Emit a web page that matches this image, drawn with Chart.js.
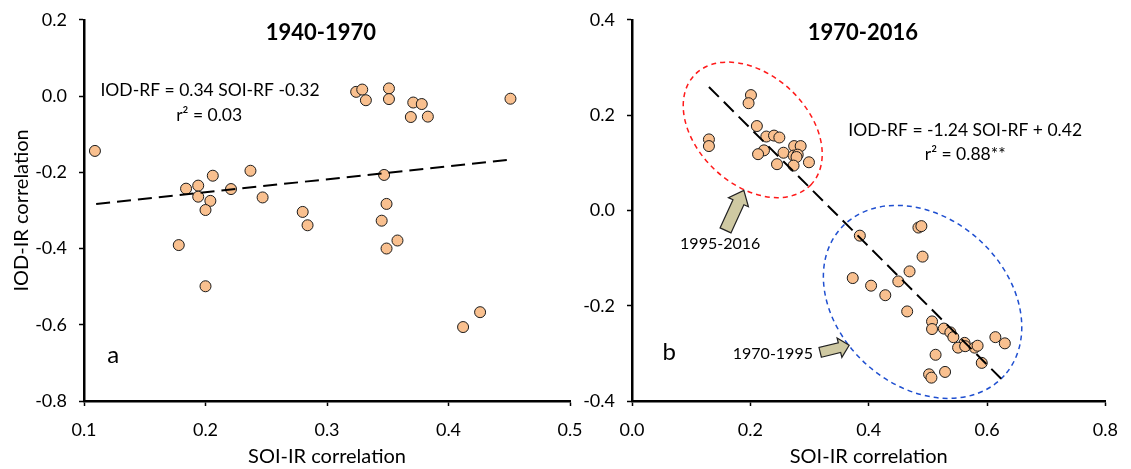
<!DOCTYPE html>
<html>
<head>
<meta charset="utf-8">
<script src="https://cdn.jsdelivr.net/npm/chart.js@4.4.0/dist/chart.umd.min.js"></script>
<style>
  html, body { margin: 0; padding: 0; background: #fff; }
  #wrap { position: relative; width: 1131px; height: 469px; overflow: hidden; background: #fff; }
  canvas { position: absolute; top: -3px; }
  #leftChart { left: 0; }
  #rightChart { left: 575px; }
</style>
</head>
<body>
<div id="wrap">
  <canvas id="leftChart" width="600" height="472"></canvas>
  <canvas id="rightChart" width="556" height="472"></canvas>
</div>
<script>
// panel a: 1940-1970
const SOI_1940 = [0.109, 0.184, 0.194, 0.194, 0.206, 0.204, 0.200, 0.221, 0.237, 0.247, 0.280, 0.284, 0.178, 0.200,
  0.324, 0.329, 0.332, 0.351, 0.351, 0.371, 0.378, 0.369, 0.383, 0.451, 0.347, 0.349, 0.345, 0.358, 0.349, 0.426, 0.412];
const IOD_1940 = [-0.144, -0.243, -0.235, -0.264, -0.209, -0.275, -0.299, -0.244, -0.196, -0.266, -0.304, -0.339, -0.391, -0.499,
  0.011, 0.017, -0.011, 0.020, -0.008, -0.017, -0.021, -0.055, -0.054, -0.007, -0.207, -0.283, -0.327, -0.379, -0.400, -0.567, -0.606];
const TREND_1940_X = [0.11, 0.448];
const TREND_1940_Y = [-0.283, -0.168];

// panel b: 1970-2016
const SOI_1970 = [0.201, 0.197, 0.211, 0.130, 0.130, 0.227, 0.240, 0.249, 0.223, 0.213, 0.256, 0.245, 0.274, 0.285, 0.273, 0.280, 0.278, 0.273, 0.299,
  0.385, 0.484, 0.489, 0.491, 0.469, 0.373, 0.404, 0.450, 0.428, 0.465, 0.507, 0.507, 0.527, 0.538, 0.543, 0.562, 0.551, 0.563,
  0.579, 0.584, 0.614, 0.630, 0.513, 0.591, 0.529, 0.502, 0.506];
const IOD_1970 = [0.242, 0.225, 0.177, 0.149, 0.135, 0.155, 0.157, 0.153, 0.126, 0.118, 0.121, 0.097, 0.135, 0.135, 0.115, 0.117, 0.112, 0.094, 0.101,
  -0.053, -0.036, -0.033, -0.097, -0.128, -0.142, -0.158, -0.149, -0.178, -0.212, -0.233, -0.249, -0.248, -0.256, -0.266, -0.278, -0.288, -0.285,
  -0.288, -0.284, -0.266, -0.279, -0.303, -0.320, -0.339, -0.344, -0.351];
const TREND_1970_X = [0.13, 0.63];
const TREND_1970_Y = [0.259, -0.361];

const X_TITLE = 'SOI-IR correlation';
const Y_TITLE = 'IOD-IR correlation';

const FONT = 'Lato, Carlito, Calibri, sans-serif';
const POINT_FILL = '#f9c08f';
let chartInstances = {};

function toPoints(xs, ys) {
    return xs.map((x, i) => ({ x: x, y: ys[i] }));
}

// ellipses, arrows and text labels placed in data units
const notesPlugin = {
    id: 'notes',
    beforeDatasetsDraw(chart, args, opts) {
        const ctx = chart.ctx;
        const sx = chart.scales.x, sy = chart.scales.y;
        ctx.save();
        (opts.ellipses || []).forEach(e => {
            ctx.beginPath();
            ctx.ellipse(sx.getPixelForValue(e.x), sy.getPixelForValue(e.y), e.rx, e.ry, e.rot * Math.PI / 180, 0, Math.PI * 2);
            ctx.setLineDash(e.dash);
            ctx.lineWidth = e.width;
            ctx.strokeStyle = e.color;
            ctx.stroke();
        });
        ctx.restore();
    },
    afterDatasetsDraw(chart, args, opts) {
        const ctx = chart.ctx;
        const sx = chart.scales.x, sy = chart.scales.y;
        ctx.save();
        (opts.arrows || []).forEach(a => {
            const x0 = sx.getPixelForValue(a.from[0]), y0 = sy.getPixelForValue(a.from[1]);
            const x1 = sx.getPixelForValue(a.to[0]), y1 = sy.getPixelForValue(a.to[1]);
            const len = Math.hypot(x1 - x0, y1 - y0);
            const ux = (x1 - x0) / len, uy = (y1 - y0) / len;
            const nx = -uy, ny = ux;
            const bx = x1 - ux * a.head, by = y1 - uy * a.head;
            ctx.beginPath();
            ctx.moveTo(x0 + nx * a.shaft, y0 + ny * a.shaft);
            ctx.lineTo(bx + nx * a.shaft, by + ny * a.shaft);
            ctx.lineTo(bx + nx * a.wing, by + ny * a.wing);
            ctx.lineTo(x1, y1);
            ctx.lineTo(bx - nx * a.wing, by - ny * a.wing);
            ctx.lineTo(bx - nx * a.shaft, by - ny * a.shaft);
            ctx.lineTo(x0 - nx * a.shaft, y0 - ny * a.shaft);
            ctx.closePath();
            ctx.fillStyle = '#cfc9a2';
            ctx.fill();
            ctx.lineWidth = 1.2;
            ctx.strokeStyle = '#222';
            ctx.stroke();
        });
        ctx.textAlign = 'center';
        ctx.textBaseline = 'middle';
        ctx.fillStyle = '#000';
        (opts.labels || []).forEach(l => {
            ctx.font = (l.bold ? 'bold ' : '') + l.size + 'px ' + FONT;
            ctx.fillText(l.text, sx.getPixelForValue(l.x), sy.getPixelForValue(l.y));
        });
        ctx.restore();
    }
};

function axisX(min, max, step) {
    return {
        type: 'linear', min: min, max: max,
        ticks: { stepSize: step, padding: 13, color: '#000',
                 font: { family: FONT, size: 18 }, callback: v => v.toFixed(1) },
        grid: { display: true, drawOnChartArea: false, drawTicks: true, tickLength: 5, tickColor: '#000', tickWidth: 1.5 },
        border: { display: true, color: '#000', width: 2.5 },
        title: { display: true, text: X_TITLE, color: '#000', font: { family: FONT, size: 20 }, padding: 0 },
        afterFit: s => { s.height = 68; }
    };
}

function axisY(min, max, width, withTitle) {
    return {
        type: 'linear', min: min, max: max,
        ticks: { stepSize: 0.2, padding: 12, color: '#000',
                 font: { family: FONT, size: 18 }, callback: v => v.toFixed(1) },
        grid: { display: true, drawOnChartArea: false, drawTicks: true, tickLength: 5, tickColor: '#000', tickWidth: 1.5 },
        border: { display: true, color: '#000', width: 2.5 },
        title: { display: withTitle, text: Y_TITLE, color: '#000', font: { family: FONT, size: 20 }, padding: { top: 10, bottom: 0 } },
        afterFit: s => { s.width = width; }
    };
}

function scatterSet(xs, ys) {
    return {
        type: 'scatter',
        data: toPoints(xs, ys),
        pointRadius: 5.5,
        pointBackgroundColor: POINT_FILL,
        pointBorderColor: '#1a1a1a',
        pointBorderWidth: 1,
        pointHoverRadius: 5.5,
        order: 2
    };
}

function trendSet(xs, ys) {
    return {
        type: 'line',
        data: toPoints(xs, ys),
        borderColor: '#000',
        borderWidth: 2,
        borderDash: [14, 7],
        pointRadius: 0,
        fill: false,
        order: 1
    };
}

function drawLeftChart() {
    const ctx = document.getElementById('leftChart').getContext('2d');
    chartInstances.left = new Chart(ctx, {
        type: 'scatter',
        data: { datasets: [scatterSet(SOI_1940, IOD_1940), trendSet(TREND_1940_X, TREND_1940_Y)] },
        options: {
            responsive: false,
            animation: false,
            layout: { padding: { top: 13, right: 30, left: 0, bottom: 0 } },
            scales: { x: axisX(0.1, 0.5, 0.1), y: axisY(-0.8, 0.2, 84, true) },
            plugins: {
                legend: { display: false },
                tooltip: { enabled: false },
                notes: {
                    labels: [
                        { text: '1940-1970', x: 0.295, y: 0.165, size: 22, bold: true },
                        { text: 'IOD-RF = 0.34 SOI-RF -0.32', x: 0.2037, y: 0.015, size: 17.5 },
                        { text: 'r\u00b2 = 0.03', x: 0.203, y: -0.05, size: 17.5 },
                        { text: 'a', x: 0.124, y: -0.68, size: 24 }
                    ]
                }
            }
        },
        plugins: [notesPlugin]
    });
}

function drawRightChart() {
    const ctx = document.getElementById('rightChart').getContext('2d');
    chartInstances.right = new Chart(ctx, {
        type: 'scatter',
        data: { datasets: [scatterSet(SOI_1970, IOD_1970), trendSet(TREND_1970_X, TREND_1970_Y)] },
        options: {
            responsive: false,
            animation: false,
            layout: { padding: { top: 13, right: 17, left: 0, bottom: 0 } },
            scales: { x: axisX(0.0, 0.8, 0.2), y: axisY(-0.4, 0.4, 57, false) },
            plugins: {
                legend: { display: false },
                tooltip: { enabled: false },
                notes: {
                    ellipses: [
                        { x: 0.204, y: 0.169, rx: 80, ry: 55, rot: 43, color: '#ff1a1a', width: 1.5, dash: [5, 4] },
                        { x: 0.491, y: -0.192, rx: 110, ry: 84, rot: 42, color: '#1f4fd0', width: 1.5, dash: [5, 4] }
                    ],
                    arrows: [
                        { from: [0.158, -0.042], to: [0.189, 0.042], shaft: 6, wing: 11, head: 13 },
                        { from: [0.318, -0.298], to: [0.367, -0.283], shaft: 5, wing: 10, head: 10 }
                    ],
                    labels: [
                        { text: '1970-2016', x: 0.390, y: 0.372, size: 22, bold: true },
                        { text: 'IOD-RF = -1.24 SOI-RF + 0.42', x: 0.563, y: 0.169, size: 17.5 },
                        { text: 'r\u00b2 = 0.88**', x: 0.563, y: 0.117, size: 17.5 },
                        { text: '1995-2016', x: 0.149, y: -0.071, size: 16 },
                        { text: '1970-1995', x: 0.238, y: -0.300, size: 16 },
                        { text: 'b', x: 0.063, y: -0.298, size: 24 }
                    ]
                }
            }
        },
        plugins: [notesPlugin]
    });
}

document.addEventListener('DOMContentLoaded', () => {
    drawLeftChart();
    drawRightChart();
});
</script>
</body>
</html>
